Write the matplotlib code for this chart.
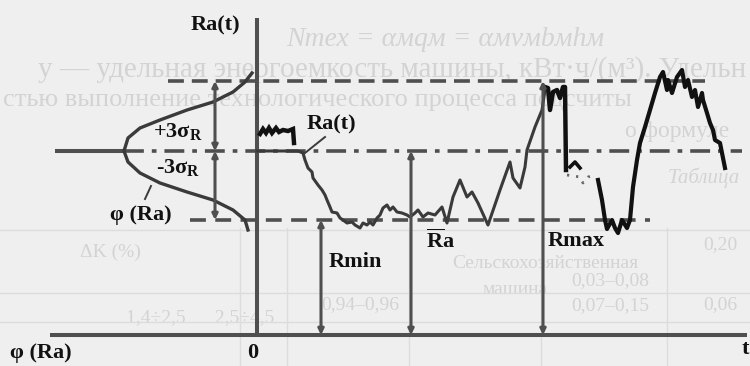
import numpy as np
import matplotlib.pyplot as plt

plt.rcParams['font.family'] = ['Liberation Serif', 'DejaVu Serif']
plt.rcParams['mathtext.fontset'] = 'custom'
plt.rcParams['mathtext.rm'] = 'Liberation Serif:bold'
plt.rcParams['mathtext.it'] = 'Liberation Serif:bold:italic'
plt.rcParams['mathtext.bf'] = 'Liberation Serif:bold'

# Уровни схемы (координаты рисунка, ось y направлена вниз)
t_axis = 257            # ось Ra(t)
t_left, t_right = 50, 747
y_max, y_mean, y_min, y_zero = 81, 151, 220, 335
x_sigma, x_rmin, x_ra, x_rmax = 215, 321, 411, 543

# Кривая распределения φ(Ra)
phi_x = [252, 245, 233, 213, 187, 160, 140, 128, 124, 128, 140, 160, 187, 213, 233, 245, 248]
phi_y = [73, 82, 92, 102, 110, 120, 128, 138, 151, 162, 173, 183, 192, 200, 210, 220, 230]

# Ra(t): короткий фрагмент у оси
sq_t = [260, 263, 266, 269, 272, 276, 279, 283, 288, 293, 294]
sq_y = [134, 129, 133, 128, 133, 128, 132, 130, 131, 129, 143]

# Ra(t): основная реализация
tr_t = [257, 298, 303, 305, 308, 312, 313, 318, 322, 325, 327, 330, 332, 337, 340, 343,
        347, 352, 355, 360, 363, 367, 370, 373, 377, 380, 383, 387, 390, 393, 397, 402,
        407, 410, 415, 418, 423, 428, 435, 442, 447, 453, 460, 467, 472, 478, 488, 500,
        510, 513, 520, 525, 527, 535, 542, 545]
tr_y = [151, 151, 153, 160, 168, 172, 178, 185, 190, 195, 200, 207, 212, 213, 218, 220,
        223, 222, 225, 228, 223, 225, 222, 225, 218, 215, 208, 205, 210, 207, 212, 213,
        215, 217, 213, 210, 217, 213, 215, 207, 223, 197, 180, 197, 192, 203, 225, 190,
        162, 178, 188, 167, 150, 127, 110, 90]

# Ra(t) у Rmax
mx_t = [545, 548, 550, 553, 557, 560, 563, 565, 566]
mx_y = [87, 88, 110, 92, 90, 98, 87, 87, 170]
cr_t = [570, 575, 580]
cr_y = [167, 162, 168]
dt_t = [567, 580, 583, 588, 595]
dt_y = [175, 177, 183, 177, 175]
dp_t = [598, 602, 605, 607, 612, 615, 618, 622, 627, 630, 633, 637, 640, 645, 650, 655,
        660, 663, 667, 668, 672, 677, 682, 685, 688, 692, 695, 698, 702, 703, 707, 710,
        713, 715, 720, 722, 725]
dp_y = [180, 200, 220, 229, 220, 228, 233, 220, 228, 220, 187, 160, 143, 127, 110, 93,
        77, 72, 90, 80, 93, 77, 70, 87, 80, 97, 90, 107, 93, 100, 113, 123,
        130, 140, 143, 153, 168]

gray = '#4f4f4f'
dark = '#3a3a3a'
ink = '#111111'
bleed = '#d3d3d3'

fig = plt.figure(figsize=(7.5, 3.66), dpi=100, facecolor='#efefef')
ax = fig.add_axes([0, 0, 1, 1])
ax.set_facecolor('#efefef')
ax.set_xlim(0, 750)
ax.set_ylim(366, 0)
ax.axis('off')

# просвечивающий текст со следующей страницы
bk = dict(color=bleed, zorder=0, va='center')
ax.text(445, 40, 'Nтех = αмqм = αмvмbмhм', fontsize=20, style='italic', ha='center', **bk)
ax.text(746, 70, 'у — удельная энергоемкость машины, кВт·ч/(м³). Удельн', fontsize=21, ha='right', **bk)
ax.text(3, 100, 'стью выполнение технологического процесса подсчиты', fontsize=19, ha='left', **bk)
ax.text(625, 132, 'о формуле', fontsize=17, ha='left', **bk)
ax.text(668, 178, 'Таблица', fontsize=15, style='italic', ha='left', **bk)
ax.text(80, 252, 'ΔK (%)', fontsize=14, ha='left', **bk)
ax.text(545, 263, 'Сельскохозяйственная', fontsize=14, ha='center', **bk)
ax.text(515, 290, 'машина', fontsize=14, ha='center', **bk)
ax.text(610, 281, '0,03–0,08', fontsize=14, ha='center', **bk)
ax.text(610, 306, '0,07–0,15', fontsize=14, ha='center', **bk)
ax.text(360, 305, '0,94–0,96', fontsize=14, ha='center', **bk)
ax.text(200, 318, '1,4÷2,5      2,5÷4,5', fontsize=14, ha='center', **bk)
ax.text(720, 245, '0,20', fontsize=14, ha='center', **bk)
ax.text(720, 305, '0,06', fontsize=14, ha='center', **bk)
for xv in [240, 287, 409, 541, 667]:
    ax.plot([xv, xv], [228, 366], color='#dcdcdc', lw=1, zorder=0)
for yv in [230, 293, 322]:
    ax.plot([0, 750], [yv, yv], color='#dcdcdc', lw=1, zorder=0)

# оси
ax.plot([t_axis, t_axis], [18, y_zero], color=gray, lw=2.9, solid_capstyle='butt')
ax.plot([t_left, t_right], [y_zero, y_zero], color=gray, lw=2.9, solid_capstyle='butt')

# уровни Rmax, Ra, Rmin
ax.plot([168, 705], [y_max, y_max], color=gray, lw=2.6, dashes=(4.4, 2.2))
ax.plot([55, 124], [y_mean, y_mean], color=gray, lw=2.9, solid_capstyle='butt')
ax.plot([124, 742], [y_mean, y_mean], color=gray, lw=2.6, dashes=(5.5, 2.2, 1.3, 2.2))
ax.plot([190, 650], [y_min, y_min], color=gray, lw=2.6, dashes=(4.4, 2.6))

# кривая распределения
ax.plot(phi_x, phi_y, color=dark, lw=2.4)
ax.plot([151, 145], [186, 199], color=dark, lw=1.4)

# стрелки
arr = dict(arrowstyle='<|-|>', color=gray, lw=2.2, mutation_scale=8, shrinkA=0, shrinkB=0)
ax.annotate('', xy=(x_sigma, y_max), xytext=(x_sigma, y_mean), arrowprops=arr)
ax.annotate('', xy=(x_sigma, y_min), xytext=(x_sigma, y_mean), arrowprops=arr)
ax.annotate('', xy=(x_rmin, y_min), xytext=(x_rmin, y_zero), arrowprops=arr)
ax.annotate('', xy=(x_ra, y_mean), xytext=(x_ra, y_zero), arrowprops=arr)
ax.annotate('', xy=(x_rmax, y_max), xytext=(x_rmax, y_zero), arrowprops=arr)

# реализация Ra(t)
ax.plot(sq_t, sq_y, color=ink, lw=3.2, solid_joinstyle='miter')
ax.plot(tr_t, tr_y, color=dark, lw=2.2)
ax.plot(mx_t, mx_y, color=ink, lw=3.2)
ax.plot(cr_t, cr_y, color=ink, lw=2.6)
ax.plot(dt_t, dt_y, color='#666666', lw=2.0, dashes=(0.8, 2.5))
ax.plot(dp_t, dp_y, color=ink, lw=3.0)
ax.plot([325, 305], [137, 153], color=dark, lw=1.4)

# подписи
lab = dict(fontsize=16, weight='bold', color=ink, ha='center', va='center')
ax.text(215, 25, 'Ra(t)', **lab)
ax.text(331, 124, 'Ra(t)', **lab)
ax.text(178, 132, r'+3σ$_\mathrm{R}$', **lab)
ax.text(178, 167, r'-3σ$_\mathrm{R}$', **lab)
ax.text(141, 215, 'φ (Ra)', **lab)
ax.text(41, 353, 'φ (Ra)', **lab)
ax.text(253, 353, '0', **lab)
ax.text(745, 349, 't', **lab)
ax.text(355, 262, 'Rmin', **lab)
ax.text(440, 241, r'$\overline{\mathrm{R}}$a', **lab)
ax.text(576, 241, 'Rmax', **lab)

plt.savefig('out.png', dpi=100, facecolor=fig.get_facecolor())
